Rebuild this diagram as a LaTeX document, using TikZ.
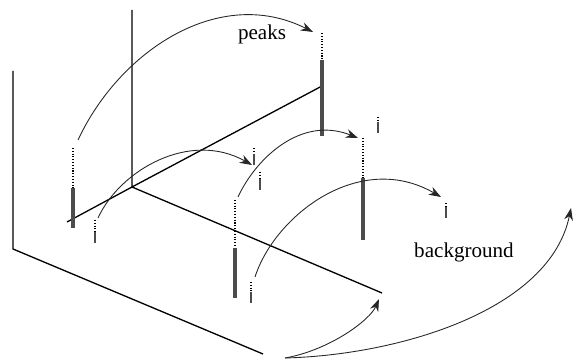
\documentclass[tikz,border=0pt]{standalone}
\usepackage{fontspec}
\setmainfont{Liberation Serif}
\usetikzlibrary{arrows.meta}

\begin{document}
\begin{tikzpicture}[x=0.02cm, y=-0.02cm,
  every node/.style={font=\fontsize{12}{14}\selectfont},
  axis/.style={line width=0.75pt},
  arr/.style={-{Stealth[length=7pt, width=5pt]}, line width=0.5pt, black!85},
  stem/.style={densely dotted, line width=0.6pt},
  bar/.style={line width=#1, black!70},
  bar/.default={2.2pt}
]
  \useasboundingbox (0,0) rectangle (574,361);

  % outer wall and floor
  \coordinate (wtop) at (13,71);
  \coordinate (wcorner) at (13,249);
  \coordinate (fend) at (263,354);
  \draw[axis] (wtop) -- (wcorner) -- (fend);

  % inner axes
  \coordinate (o) at (132,187);
  \coordinate (zend) at (132,10);
  \coordinate (yend) at (322,86);
  \coordinate (ybk) at (67,222);
  \coordinate (xend) at (382,293);
  \draw[axis] (zend) -- (o) -- (yend);
  \draw[axis] (ybk) -- (o) -- (xend);

  % tall peaks: x / top / start of bar / base
  \foreach \x/\t/\m/\b [count=\i] in {73/148/188/228, 322/33/60/136,
                                       363/138/178/240, 235/200/248/298} {
    \draw[stem] (\x,\t) -- (\x,\m);
    \draw[bar] (\x,\m) -- (\x,\b);
  }

  % small peaks (background)
  \foreach \x/\t/\b in {95/220/243, 378/117/133, 254/148/165,
                        260/172/190, 251/282/303, 446/203/218} {
    \draw[stem] (\x,\t) -- (\x,\b-10);
    \draw[bar=1.6pt] (\x,\b-11) -- (\x,\b);
  }

  % labels
  \node (peaks) at (262,34) {peaks};
  \node (bg) at (464,252) {background};

  % arrow ends
  \coordinate (a1) at (78,140);
  \coordinate (a2) at (313,32);
  \coordinate (b1) at (98,218);
  \coordinate (b2) at (252,165);
  \coordinate (c1) at (238,197);
  \coordinate (c2) at (358,138);
  \coordinate (d1) at (255,277);
  \coordinate (d2) at (441,197);
  \coordinate (src) at (285,358);
  \coordinate (e2) at (379,299);
  \coordinate (f2) at (571,208);

  % arrows
  \draw[arr] (a1) .. controls (120,50) and (220,-15) .. (a2);
  \draw[arr] (b1) .. controls (120,170) and (190,130) .. (b2);
  \draw[arr] (c1) .. controls (255,160) and (300,115) .. (c2);
  \draw[arr] (d1) .. controls (275,215) and (360,150) .. (d2);
  \draw[arr] (src) .. controls (330,350) and (370,320) .. (e2);
  \draw[arr] (src) .. controls (400,355) and (550,310) .. (f2);
\end{tikzpicture}
\end{document}
